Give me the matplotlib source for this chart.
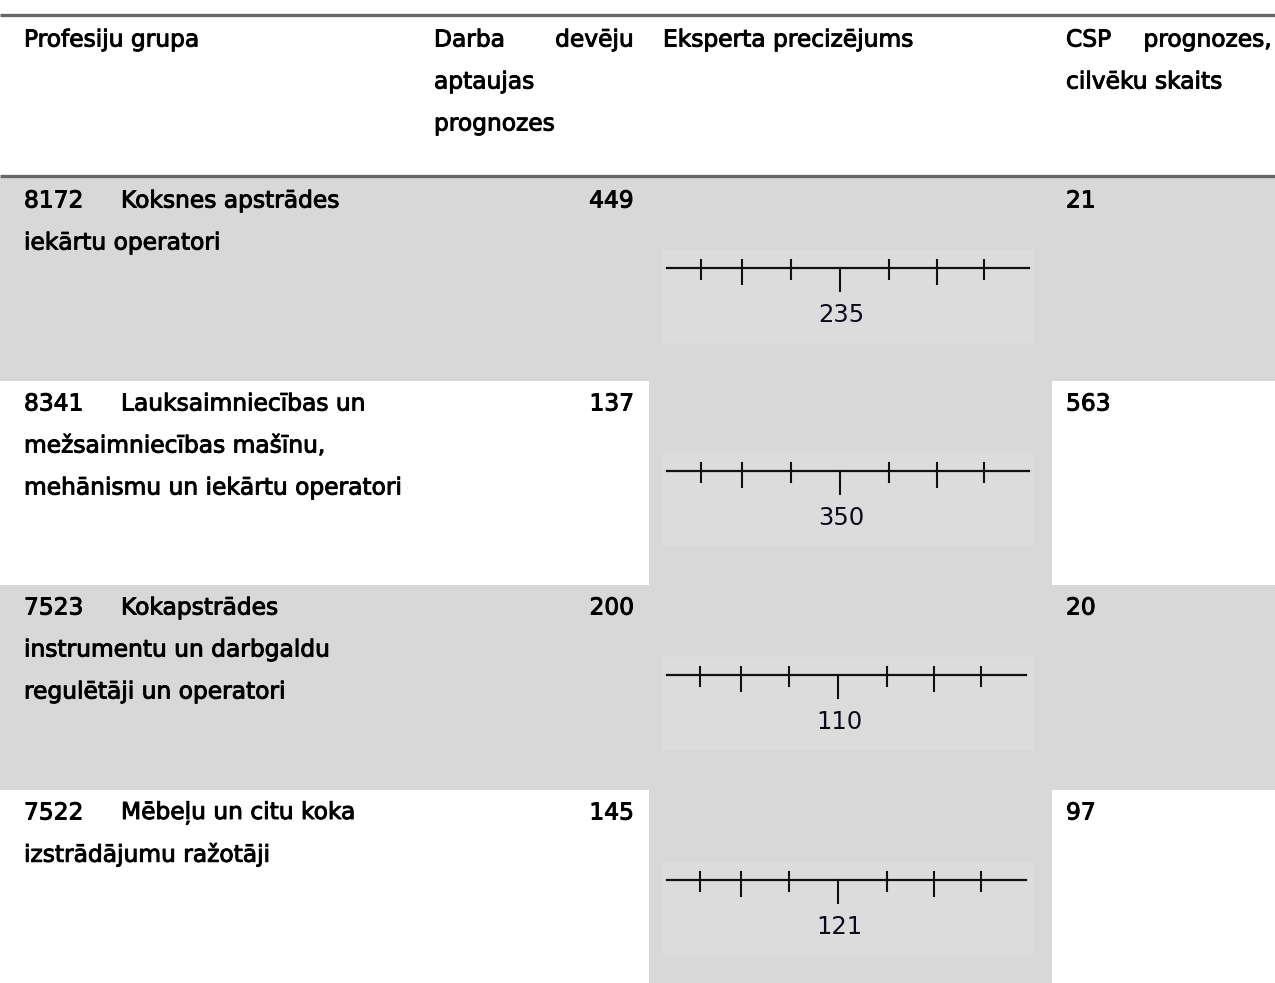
import matplotlib
matplotlib.use("Agg")
import matplotlib.pyplot as plt
import matplotlib.patheffects as pe
from matplotlib.patches import Rectangle

# table content
headers = ["Profesiju grupa", ["Darba", "devēju"], "Eksperta precizējums", ["CSP", "prognozes,"]]
header_extra = [[], ["aptaujas", "prognozes"], [], ["cilvēku skaits"]]
codes = ["8172", "8341", "7523", "7522"]
name_lines = [
    ["Koksnes apstrādes", "iekārtu operatori"],
    ["Lauksaimniecības un", "mežsaimniecības mašīnu,", "mehānismu un iekārtu operatori"],
    ["Kokapstrādes", "instrumentu un darbgaldu", "regulētāji un operatori"],
    ["Mēbeļu un citu koka", "izstrādājumu ražotāji"],
]
survey = [449, 137, 200, 145]
expert = [235, 350, 110, 121]
csp = [21, 563, 20, 97]

W, H = 1275, 983
GRAY = "#d8d8d8"
BOX = "#dcdcdc"
RULE = "#666666"
FS = 16.8
LINE = 42

row_top = [178, 381, 585, 790]
row_bot = [381, 585, 790, 983]
shaded = [True, False, True, False]
# scale marks relative to centre
tick_dx = [-139, -98, -49, 49, 97, 144]
tick_long = [False, True, False, False, True, False]

fig = plt.figure(figsize=(W / 100, H / 100), dpi=100)
ax = fig.add_axes([0, 0, 1, 1])
ax.set_xlim(0, W)
ax.set_ylim(H, 0)
ax.axis("off")

# backgrounds
for i in range(len(codes)):
    if shaded[i]:
        ax.add_patch(Rectangle((0, row_top[i]), W, row_bot[i] - row_top[i], color=GRAY, lw=0))
ax.add_patch(Rectangle((649, 178), 403, H - 178, color=GRAY, lw=0))

# rules
ax.plot([0, W], [15, 15], color=RULE, lw=2.4, solid_capstyle="butt")
ax.plot([0, W], [176, 176], color=RULE, lw=2.4, solid_capstyle="butt")

heavy = [pe.withStroke(linewidth=0.7, foreground="black")]
txt = dict(fontsize=FS, va="center", color="black", family="DejaVu Sans", path_effects=heavy)

# header
hy = 40
ax.text(24, hy, headers[0], ha="left", **txt)
ax.text(434, hy, headers[1][0], ha="left", **txt)
ax.text(634, hy, headers[1][1], ha="right", **txt)
ax.text(663, hy, headers[2], ha="left", **txt)
ax.text(1066, hy, headers[3][0], ha="left", **txt)
ax.text(1272, hy, headers[3][1], ha="right", **txt)
for k, s in enumerate(header_extra[1]):
    ax.text(434, hy + LINE * (k + 1), s, ha="left", **txt)
for k, s in enumerate(header_extra[3]):
    ax.text(1066, hy + LINE * (k + 1), s, ha="left", **txt)

# rows
for i in range(len(codes)):
    ty = row_top[i] + 23
    ax.text(24, ty, codes[i], ha="left", **txt)
    ax.text(121, ty, name_lines[i][0], ha="left", **txt)
    for k, s in enumerate(name_lines[i][1:]):
        ax.text(24, ty + LINE * (k + 1), s, ha="left", **txt)
    ax.text(634, ty, str(survey[i]), ha="right", **txt)
    ax.text(1066, ty, str(csp[i]), ha="left", **txt)

    # expert scale
    ly = row_top[i] + 90
    cx = 840 if i < 2 else 838
    sc = 1.0 if i < 2 else 0.99
    ax.add_patch(Rectangle((663, ly - 18), 370, 93, color=BOX, lw=0))
    ax.plot([667, 1029 if i < 2 else 1026], [ly, ly], color="#111111", lw=1.6)
    for dx, lg in zip(tick_dx, tick_long):
        x = cx + dx * sc
        ax.plot([x, x], [ly - 8, ly + (16 if lg else 11)], color="#111111", lw=1.5)
    ax.plot([cx, cx], [ly, ly + 23], color="#111111", lw=1.5)
    ax.text(cx + 1, ly + 47, str(expert[i]), ha="center", va="center", fontsize=17.5,
            color="#0a0a1a", family="DejaVu Sans")

fig.savefig("out.png", dpi=100, facecolor="white")
